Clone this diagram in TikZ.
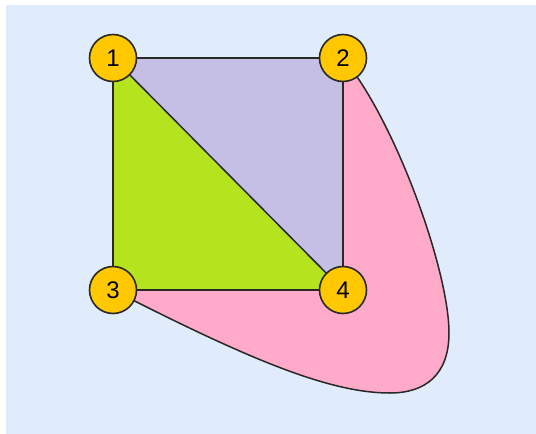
\documentclass[tikz,border=0pt]{standalone}
\usepackage{fontspec}
\setmainfont{Liberation Sans}
\definecolor{bgblue}{RGB}{224,236,252}
\definecolor{lilac}{RGB}{197,191,230}
\definecolor{lime}{RGB}{181,228,30}
\definecolor{pinkish}{RGB}{255,170,200}
\definecolor{gold}{RGB}{255,200,0}
\definecolor{edgegray}{RGB}{40,40,40}
\pgfdeclarelayer{background}
\pgfsetlayers{background,main}
\begin{document}
\begin{tikzpicture}[x=1pt,y=-1pt,
  vertex/.style={circle, draw=edgegray, line width=1.6pt, fill=gold, minimum size=47pt, inner sep=0pt, font=\fontsize{24}{24}\selectfont},
  edge/.style={draw=edgegray, line width=1.5pt}]
\useasboundingbox (0,0) rectangle (536,434);
\node[vertex] (n1) at (113,58) {1};
\node[vertex] (n2) at (343,58) {2};
\node[vertex] (n3) at (113,290) {3};
\node[vertex] (n4) at (343,290) {4};
\begin{pgfonlayer}{background}
  \fill[white] (0,0) rectangle (536,434);
  \fill[bgblue] (6,5) rectangle (536,434);
  \fill[pinkish] (n3.center) -- (n4.center) -- (n2.center)
    .. controls (395,120) and (449,270) .. (449,333)
    .. controls (449,375) and (425,393) .. (390,393)
    .. controls (330,393) and (250,360) .. (n3.center) -- cycle;
  \draw[edge] (n2.center)
    .. controls (395,120) and (449,270) .. (449,333)
    .. controls (449,375) and (425,393) .. (390,393)
    .. controls (330,393) and (250,360) .. (n3.center);
  \fill[lilac] (n1.center) -- (n2.center) -- (n4.center) -- cycle;
  \fill[lime] (n1.center) -- (n4.center) -- (n3.center) -- cycle;
  \draw[edge] (n1.center) -- (n2.center);
  \draw[edge] (n1.center) -- (n3.center);
  \draw[edge] (n1.center) -- (n4.center);
  \draw[edge] (n2.center) -- (n4.center);
  \draw[edge] (n3.center) -- (n4.center);
\end{pgfonlayer}
\end{tikzpicture}
\end{document}
